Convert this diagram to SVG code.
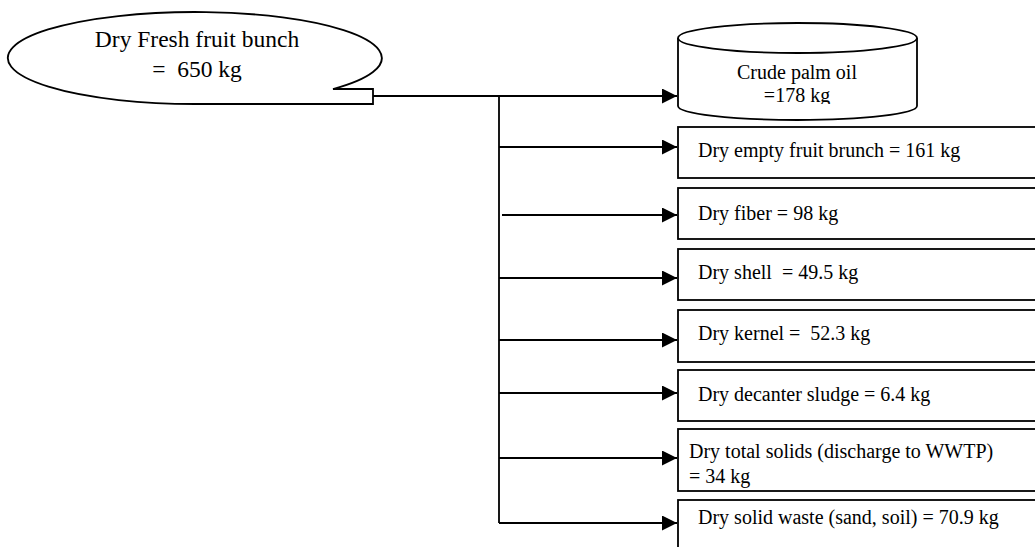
<svg xmlns="http://www.w3.org/2000/svg" width="1035" height="547" viewBox="0 0 1035 547">
  <style>
    .shape { fill: #ffffff; stroke: #000000; stroke-width: 1.8; }
    .wire { fill: none; stroke: #000000; stroke-width: 1.8; }
    .lbl { font-family: "Liberation Serif", "Times New Roman", serif; font-size: 20px; fill: #000000; }
    .big { font-size: 23.5px; }
    .mid { text-anchor: middle; }
  </style>
  <defs>
    <marker id="arrow" viewBox="0 0 10 10" refX="10" refY="5" markerWidth="15" markerHeight="15" markerUnits="userSpaceOnUse" orient="auto">
      <path d="M0,0 L10,5 L0,10 Z" fill="#000000"/>
    </marker>
    <clipPath id="oilClip">
      <rect x="678" y="20" width="240" height="84"/>
    </clipPath>
  </defs>

  <rect width="1035" height="547" fill="#ffffff"/>

  <!-- source: callout ellipse with tab -->
  <g id="fresh-fruit-bunch">
    <path class="shape" d="M333,89 L373,89 L373,104 L197,104 A187,46 0 1 1 333,89 Z"/>
    <text class="lbl big mid" x="197" y="47">Dry Fresh fruit bunch</text>
    <text class="lbl big mid" x="197" y="77" xml:space="preserve">=  650 kg</text>
  </g>

  <!-- connectors -->
  <g id="connectors">
    <path class="wire" d="M373,96 L499,96 M499,96 L499,523"/>
    <line class="wire" x1="499" y1="96" x2="677" y2="96" marker-end="url(#arrow)"/>
    <line class="wire" x1="499" y1="147" x2="677" y2="147" marker-end="url(#arrow)"/>
    <line class="wire" x1="502" y1="215" x2="677" y2="215" marker-end="url(#arrow)"/>
    <line class="wire" x1="499" y1="278" x2="677" y2="278" marker-end="url(#arrow)"/>
    <line class="wire" x1="499" y1="340" x2="677" y2="340" marker-end="url(#arrow)"/>
    <line class="wire" x1="499" y1="393" x2="677" y2="393" marker-end="url(#arrow)"/>
    <line class="wire" x1="499" y1="458" x2="677" y2="458" marker-end="url(#arrow)"/>
    <line class="wire" x1="499" y1="523" x2="677" y2="523" marker-end="url(#arrow)"/>
  </g>

  <!-- products -->
  <g id="crude-palm-oil">
    <path class="shape" d="M678,38 L678,106 A119.5,14 0 0 0 917,106 L917,38"/>
    <ellipse class="shape" cx="797.5" cy="38" rx="119.5" ry="15"/>
    <g clip-path="url(#oilClip)">
      <text class="lbl mid" x="797" y="79">Crude palm oil</text>
      <text class="lbl mid" x="797" y="102">=178 kg</text>
    </g>
  </g>

  <g id="empty-fruit-bunch">
    <rect class="shape" x="678" y="127" width="370" height="51"/>
    <text class="lbl" x="698" y="157">Dry empty fruit brunch = 161 kg</text>
  </g>

  <g id="fiber">
    <rect class="shape" x="678" y="188" width="370" height="51"/>
    <text class="lbl" x="698" y="220">Dry fiber = 98 kg</text>
  </g>

  <g id="shell">
    <rect class="shape" x="678" y="249" width="370" height="51"/>
    <text class="lbl" x="698" y="279" xml:space="preserve">Dry shell  = 49.5 kg</text>
  </g>

  <g id="kernel">
    <rect class="shape" x="678" y="310" width="370" height="52"/>
    <text class="lbl" x="698" y="340" xml:space="preserve">Dry kernel =  52.3 kg</text>
  </g>

  <g id="decanter-sludge">
    <rect class="shape" x="678" y="370" width="370" height="51"/>
    <text class="lbl" x="698" y="401">Dry decanter sludge = 6.4 kg</text>
  </g>

  <g id="total-solids">
    <rect class="shape" x="678" y="429" width="370" height="62"/>
    <text class="lbl" x="689" y="458">Dry total solids (discharge to WWTP)</text>
    <text class="lbl" x="689" y="483">= 34 kg</text>
  </g>

  <g id="solid-waste">
    <rect class="shape" x="678" y="500" width="370" height="60"/>
    <text class="lbl" x="698" y="524">Dry solid waste (sand, soil) = 70.9 kg</text>
  </g>
</svg>
